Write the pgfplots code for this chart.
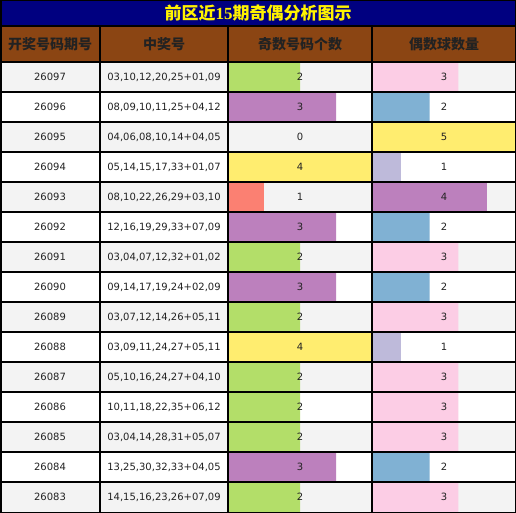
\documentclass[border=0pt]{standalone}
\usepackage{pgfplots}
\pgfplotsset{compat=1.18}
\usepackage{fontspec}
\setmainfont{DejaVu Sans}
\newfontfamily\cjk{Noto Sans CJK SC}
\newfontfamily\serifb{Liberation Serif}
\definecolor{sgreen}{HTML}{B3DE69}
\definecolor{spurple}{HTML}{BC80BD}
\definecolor{syellow}{HTML}{FFED6F}
\definecolor{ssalmon}{HTML}{FB8072}
\definecolor{spink}{HTML}{FCCDE5}
\definecolor{sblue}{HTML}{80B1D3}
\definecolor{slav}{HTML}{BEBADA}
\definecolor{titlebg}{HTML}{000080}
\definecolor{headbg}{HTML}{8B4513}
\definecolor{rowgray}{HTML}{F3F3F3}
\definecolor{txt}{HTML}{222222}
\newcommand\row[5]{%
  \pgfmathsetmacro\yy{-(62+30*(#1-0.5))}%
  \node[txt] at (50,\yy) {#2};
  \node[txt] at (164,\yy) {#3};
  \node[txt] at (300,\yy) {#4};
  \node[txt] at (444,\yy) {#5};}
\pgfplotsset{barcol/.style={anchor=north west,scale only axis,width=144bp,height=450bp,
  hide axis,xbar,bar width=30bp,bar shift=0pt,ymin=0.5,ymax=15.5,y dir=reverse,clip=false}}
\begin{document}
\begin{tikzpicture}[x=1bp,y=1bp,font=\fontsize{10bp}{12bp}\selectfont]
\useasboundingbox (0,0) rectangle (516,-513);
% backgrounds
\fill[white] (0,0) rectangle (516,-513);
\fill[titlebg] (0,0) rectangle (516,-26);
\fill[headbg] (0,-26) rectangle (516,-62);
\foreach \i in {1,3,...,15} {\fill[rowgray] (0,{-32-30*\i}) rectangle (516,{-62-30*\i});}
% odd-count bars
\begin{axis}[barcol,at={(228bp,-62bp)},xmin=0,xmax=4]
\addplot[draw=none,fill=sgreen] coordinates {(2,1) (2,7) (2,9) (2,11) (2,12) (2,13) (2,15)};
\addplot[draw=none,fill=spurple] coordinates {(3,2) (3,6) (3,8) (3,14)};
\addplot[draw=none,fill=syellow] coordinates {(4,4) (4,10)};
\addplot[draw=none,fill=ssalmon] coordinates {(1,5)};
\end{axis}
% even-count bars
\begin{axis}[barcol,at={(372bp,-62bp)},xmin=0,xmax=5]
\addplot[draw=none,fill=spink] coordinates {(3,1) (3,7) (3,9) (3,11) (3,12) (3,13) (3,15)};
\addplot[draw=none,fill=sblue] coordinates {(2,2) (2,6) (2,8) (2,14)};
\addplot[draw=none,fill=syellow] coordinates {(5,3)};
\addplot[draw=none,fill=slav] coordinates {(1,4) (1,10)};
\addplot[draw=none,fill=spurple] coordinates {(4,5)};
\end{axis}
% grid lines
\draw[line width=1.5bp] (0,-26) -- (516,-26);
\foreach \i in {0,...,14} {\draw[line width=1.5bp] (0,{-62-30*\i}) -- (516,{-62-30*\i});}
\foreach \x in {100,228,372} {\draw[line width=1.5bp] (\x,-26) -- (\x,-513);}
\draw[line width=1.5bp] (0.75,-0.75) rectangle (515.25,-512.25);
% title
\node[text=yellow] at (258,-13.5) {\fontsize{17bp}{20bp}\selectfont\cjk\bfseries 前区近{\serifb\bfseries 15}期奇偶分析图示};
% header
\begin{scope}[font=\fontsize{14bp}{16bp}\selectfont\cjk\bfseries]
\node[txt] at (50,-44) {开奖号码期号};
\node[txt] at (164,-44) {中奖号};
\node[txt] at (300,-44) {奇数号码个数};
\node[txt] at (444,-44) {偶数球数量};
\end{scope}
\row{1}{26097}{03,10,12,20,25+01,09}{2}{3}
\row{2}{26096}{08,09,10,11,25+04,12}{3}{2}
\row{3}{26095}{04,06,08,10,14+04,05}{0}{5}
\row{4}{26094}{05,14,15,17,33+01,07}{4}{1}
\row{5}{26093}{08,10,22,26,29+03,10}{1}{4}
\row{6}{26092}{12,16,19,29,33+07,09}{3}{2}
\row{7}{26091}{03,04,07,12,32+01,02}{2}{3}
\row{8}{26090}{09,14,17,19,24+02,09}{3}{2}
\row{9}{26089}{03,07,12,14,26+05,11}{2}{3}
\row{10}{26088}{03,09,11,24,27+05,11}{4}{1}
\row{11}{26087}{05,10,16,24,27+04,10}{2}{3}
\row{12}{26086}{10,11,18,22,35+06,12}{2}{3}
\row{13}{26085}{03,04,14,28,31+05,07}{2}{3}
\row{14}{26084}{13,25,30,32,33+04,05}{3}{2}
\row{15}{26083}{14,15,16,23,26+07,09}{2}{3}
\end{tikzpicture}
\end{document}
